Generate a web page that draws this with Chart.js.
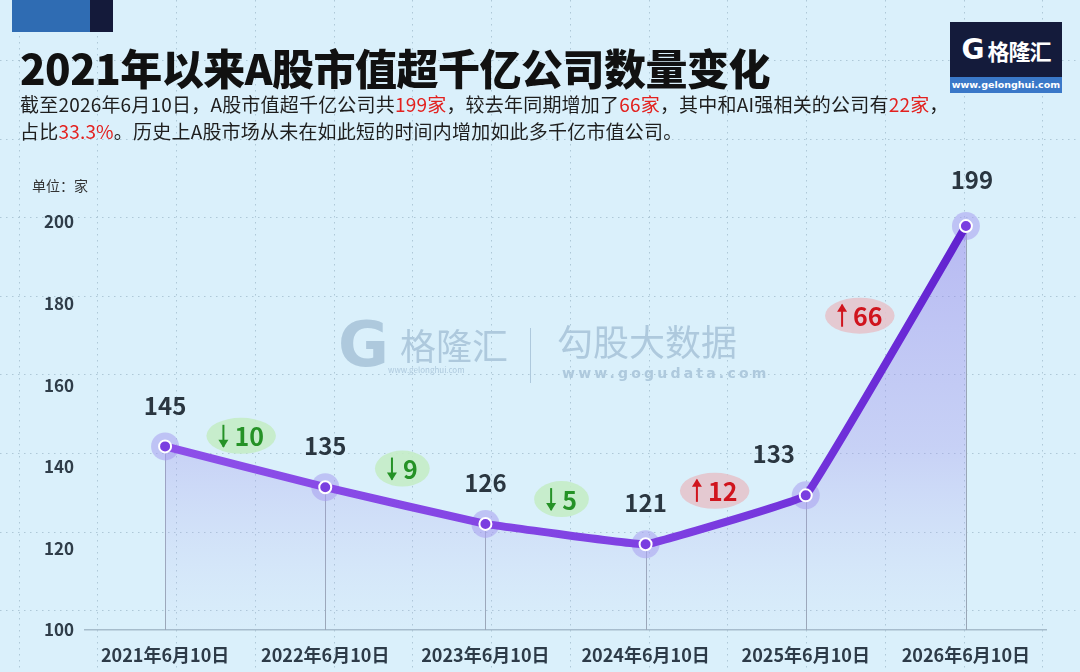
<!DOCTYPE html>
<html lang="zh-CN">
<head>
<meta charset="UTF-8">
<title>2021年以来A股市值超千亿公司数量变化</title>
<script src="https://cdn.jsdelivr.net/npm/chart.js"></script>
<style>
  html, body { margin: 0; padding: 0; }
  body {
    width: 1080px; height: 672px; position: relative; overflow: hidden;
    background: #daf0fb;
    font-family: "Noto Sans CJK SC", "Noto Sans", sans-serif;
  }
  .chart-box { position: absolute; left: 0; top: 0; width: 1080px; height: 672px; }
  .corner-a { position: absolute; left: 12px; top: 0; width: 78px; height: 32px; background: #2f6cb3; }
  .corner-b { position: absolute; left: 90px; top: 0; width: 23px; height: 32px; background: #141a3a; }
  h1 {
    position: absolute; left: 20px; top: 44px; margin: 0;
    font-size: 42px; line-height: 46px; font-weight: 900; color: #111;
    letter-spacing: -0.5px; white-space: nowrap;
  }
  .sub {
    position: absolute; left: 20px; top: 90px;
    font-size: 19px; line-height: 27px; color: #1e1e1e; white-space: nowrap;
    letter-spacing: 0.2px;
  }
  .sub .r { color: #e3211f; }
  .unit { position: absolute; left: 32px; top: 175px; font-size: 14px; line-height: 20px; color: #333; }
  .logo { position: absolute; left: 950px; top: 22px; width: 112px; height: 71px; background: #141b3b; }
  .logo .top { position: absolute; left: 0; top: 0; width: 112px; height: 55px; display: flex; align-items: center; justify-content: center; color: #fff; }
  .logo .g { font-family: "DejaVu Sans", sans-serif; font-weight: bold; font-size: 28px; margin-right: 3px; }
  .logo .name { font-weight: bold; font-size: 22px; letter-spacing: -1px; }
  .logo .band {
    position: absolute; left: 0; top: 55px; width: 112px; height: 16px; background: #3a78c8;
    color: #fff; font-size: 9.5px; font-weight: bold; line-height: 16px; text-align: center;
    font-family: "DejaVu Sans", sans-serif;
  }
  .wm { position: absolute; color: #aec9dd; pointer-events: none; white-space: nowrap; }
  .wm-g { left: 338px; top: 310px; font-family: "DejaVu Sans", sans-serif; font-weight: bold; font-size: 62px; line-height: 70px; }
  .wm-n { left: 400px; top: 322px; font-size: 36px; line-height: 44px; }
  .wm-u1 { left: 388px; top: 364px; font-size: 8px; line-height: 12px; }
  .wm-sep { position: absolute; left: 530px; top: 328px; width: 1px; height: 55px; background: #aec9dd; }
  .wm-n2 { left: 557px; top: 318px; font-size: 36px; line-height: 44px; }
  .wm-u2 { left: 562px; top: 363px; font-size: 14px; line-height: 20px; font-weight: bold; letter-spacing: 3.2px; font-family: "DejaVu Sans", sans-serif; }
</style>
</head>
<body>
<div class="chart-box"><canvas id="countChart"></canvas></div>

<div class="corner-a"></div>
<div class="corner-b"></div>
<h1>2021年以来A股市值超千亿公司数量变化</h1>
<div class="sub">
  截至2026年6月10日，A股市值超千亿公司共<span class="r">199家</span>，较去年同期增加了<span class="r">66家</span>，其中和AI强相关的公司有<span class="r">22家</span>，<br>
  占比<span class="r">33.3%</span>。历史上A股市场从未在如此短的时间内增加如此多千亿市值公司。
</div>
<div class="unit">单位：家</div>

<div class="logo">
  <div class="top"><span class="g">G</span><span class="name">格隆汇</span></div>
  <div class="band">www.gelonghui.com</div>
</div>

<div class="wm wm-g">G</div>
<div class="wm wm-n">格隆汇</div>
<div class="wm wm-u1">www.gelonghui.com</div>
<div class="wm-sep"></div>
<div class="wm wm-n2">勾股大数据</div>
<div class="wm wm-u2">www.gogudata.com</div>

<script>
// data
const categories = ['2021年6月10日', '2022年6月10日', '2023年6月10日', '2024年6月10日', '2025年6月10日', '2026年6月10日'];
const companyCounts = [145, 135, 126, 121, 133, 199];
const yearChanges = [-10, -9, -5, 12, 66];
const yMin = 100;
const yMax = 200;
const yStep = 20;

const FONT = '"Noto Sans CJK SC", "Noto Sans", sans-serif';

// dotted background grid over the whole page
const bgGrid = {
  id: 'bgGrid',
  beforeDraw(chart) {
    const ctx = chart.ctx;
    const w = chart.width, h = chart.height;
    ctx.save();
    ctx.fillStyle = '#daf0fb';
    ctx.fillRect(0, 0, w, h);
    ctx.strokeStyle = 'rgba(120,150,170,0.45)';
    ctx.lineWidth = 1;
    ctx.setLineDash([1.5, 4.5]);
    ctx.beginPath();
    for (let x = 18.5; x < w; x += 78.75) {
      ctx.moveTo(Math.round(x) + 0.5, 0);
      ctx.lineTo(Math.round(x) + 0.5, h);
    }
    for (let y = 60; y < h; y += 78.6) {
      ctx.moveTo(0, Math.round(y) + 0.5);
      ctx.lineTo(w, Math.round(y) + 0.5);
    }
    ctx.stroke();
    ctx.restore();
  }
};

// thin lines from each point down to the axis
const dropLines = {
  id: 'dropLines',
  beforeDatasetsDraw(chart) {
    const ctx = chart.ctx;
    const meta = chart.getDatasetMeta(0);
    const bottom = chart.chartArea.bottom;
    ctx.save();
    ctx.strokeStyle = '#99a6b6';
    ctx.lineWidth = 1;
    meta.data.forEach(p => {
      ctx.beginPath();
      ctx.moveTo(Math.round(p.x) + 0.5, p.y);
      ctx.lineTo(Math.round(p.x) + 0.5, bottom);
      ctx.stroke();
    });
    ctx.restore();
  }
};

// value labels and the change bubbles
const labelsPlugin = {
  id: 'labelsPlugin',
  afterDatasetsDraw(chart) {
    const ctx = chart.ctx;
    const meta = chart.getDatasetMeta(0);
    const shiftX = {4: -32, 5: 6};
    const shiftY = {5: -46};
    ctx.save();
    ctx.textAlign = 'center';
    ctx.textBaseline = 'middle';
    ctx.font = 'bold 24px ' + FONT;
    ctx.fillStyle = '#2a3640';
    meta.data.forEach((p, i) => {
      ctx.fillText(String(companyCounts[i]), p.x + (shiftX[i] || 0), p.y + (shiftY[i] || -41));
    });

    const dx = [-4, -3, -4, -11, -26];
    const dy = [-31, -37, -35, -29, -45];
    yearChanges.forEach((d, i) => {
      const a = meta.data[i], b = meta.data[i + 1];
      const cx = (a.x + b.x) / 2 + dx[i];
      const cy = (a.y + b.y) / 2 + dy[i];
      const up = d > 0;
      const txt = String(Math.abs(d));
      ctx.font = 'bold 25px ' + FONT;
      const tw = ctx.measureText(txt).width;
      const arrowW = 14;
      const rx = (tw + arrowW) / 2 + 13;
      ctx.fillStyle = up ? 'rgba(228,196,204,0.9)' : 'rgba(196,236,198,0.9)';
      ctx.beginPath();
      ctx.ellipse(cx, cy, rx, 18, 0, 0, Math.PI * 2);
      ctx.fill();
      const col = up ? '#d0141d' : '#259226';
      const startX = cx - (tw + arrowW + 2) / 2;
      // arrow
      ctx.strokeStyle = col;
      ctx.fillStyle = col;
      ctx.lineWidth = 2;
      const ax = startX + 5;
      ctx.beginPath();
      ctx.moveTo(ax, cy - 11);
      ctx.lineTo(ax, cy + 11);
      ctx.stroke();
      ctx.beginPath();
      if (up) {
        ctx.moveTo(ax, cy - 12); ctx.lineTo(ax - 5, cy - 4); ctx.lineTo(ax + 5, cy - 4);
      } else {
        ctx.moveTo(ax, cy + 12); ctx.lineTo(ax - 5, cy + 4); ctx.lineTo(ax + 5, cy + 4);
      }
      ctx.closePath();
      ctx.fill();
      ctx.textAlign = 'left';
      ctx.fillText(txt, startX + arrowW + 2, cy + 1);
      ctx.textAlign = 'center';
    });
    ctx.restore();
  }
};

const ctx = document.getElementById('countChart').getContext('2d');
new Chart(ctx, {
  type: 'line',
  data: {
    labels: categories,
    datasets: [{
      label: '千亿公司数量',
      data: companyCounts,
      order: 1,
      tension: 0.05,
      borderWidth: 8,
      borderCapStyle: 'round',
      borderJoinStyle: 'round',
      borderColor: function(context) {
        const area = context.chart.chartArea;
        if (!area) return '#7b3fe0';
        const g = context.chart.ctx.createLinearGradient(area.left, 0, area.right, 0);
        g.addColorStop(0, '#9052ea');
        g.addColorStop(0.6, '#7e40e2');
        g.addColorStop(0.85, '#6a2ad6');
        g.addColorStop(1, '#5519c4');
        return g;
      },
      fill: 'start',
      backgroundColor: function(context) {
        const area = context.chart.chartArea;
        if (!area) return 'rgba(150,130,235,0.3)';
        const g = context.chart.ctx.createLinearGradient(0, area.top, 0, area.bottom);
        g.addColorStop(0, 'rgba(140,118,232,0.45)');
        g.addColorStop(0.55, 'rgba(160,145,235,0.33)');
        g.addColorStop(1, 'rgba(190,190,240,0.05)');
        return g;
      },
      pointRadius: 6,
      pointBorderWidth: 2,
      pointBorderColor: '#ffffff',
      pointBackgroundColor: '#7a3ee0',
      clip: false
    }, {
      label: 'halo',
      data: companyCounts,
      order: 2,
      showLine: false,
      fill: false,
      pointRadius: 14,
      pointBorderWidth: 0,
      pointBackgroundColor: 'rgba(168,158,240,0.55)',
      clip: false
    }]
  },
  options: {
    responsive: true,
    maintainAspectRatio: false,
    animation: false,
    layout: { padding: { top: 222, right: 34, left: 0, bottom: 0 } },
    scales: {
      x: {
        offset: true,
        grid: { display: false, drawTicks: false },
        border: { display: true, color: '#a6bccb', width: 1.5 },
        ticks: {
          padding: 14,
          color: '#2d3b48',
          font: { family: FONT, size: 18, weight: 'bold' }
        },
        afterFit: s => { s.height = 42; }
      },
      y: {
        min: yMin,
        max: yMax,
        grid: { display: false, drawTicks: false },
        border: { display: false },
        ticks: {
          stepSize: yStep,
          padding: 11,
          color: '#2f3d49',
          font: { family: FONT, size: 17, weight: 'bold' }
        },
        afterFit: s => { s.width = 85; }
      }
    },
    plugins: {
      legend: { display: false },
      tooltip: { enabled: false }
    }
  },
  plugins: [bgGrid, dropLines, labelsPlugin]
});
</script>
</body>
</html>
